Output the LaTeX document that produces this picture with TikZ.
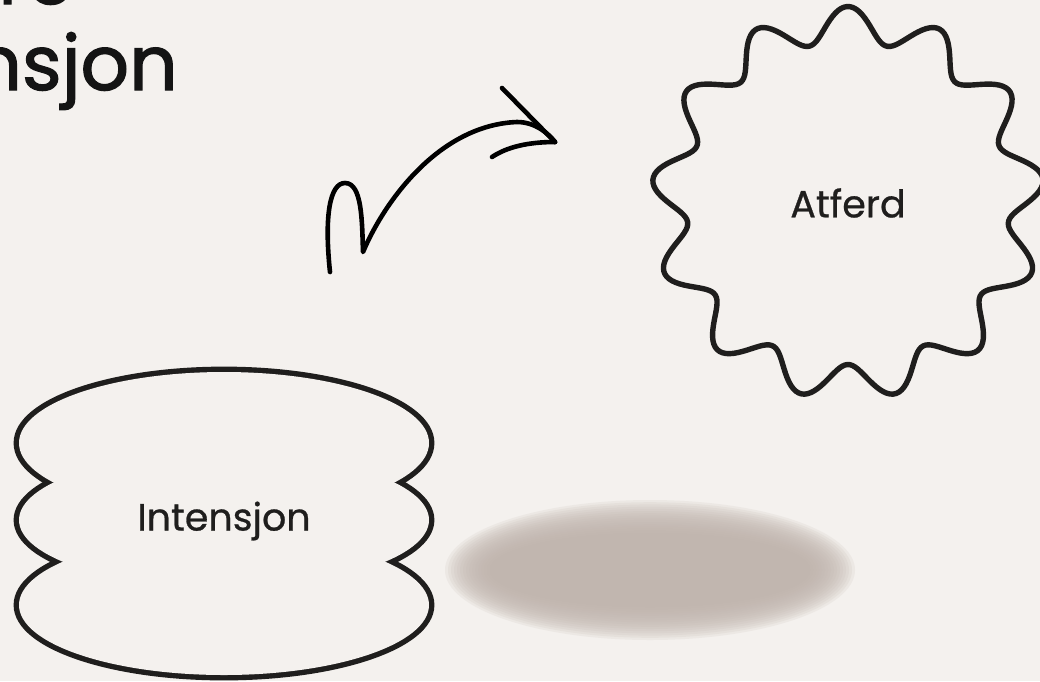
\documentclass[tikz,border=0pt]{standalone}
\usepackage{fontspec}
\setmainfont{Poppins}
\newfontfamily\headfont{Poppins}[FakeBold=1.6]
\newfontfamily\labelfont{Poppins}[FakeBold=0.7]
\usepackage{xcolor}
\usetikzlibrary{arrows.meta,positioning,calc}

\definecolor{paper}{HTML}{F4F1EE}
\definecolor{ink}{HTML}{1F1E1D}
\definecolor{shadowtone}{HTML}{C0B5AD}

\begin{document}
\begin{tikzpicture}[
  x=1pt, y=-1pt,
  outline/.style={draw=ink, line width=5.4pt, line cap=round, line join=round},
  label/.style={text=ink, font=\labelfont\fontsize{38}{44}\selectfont, inner sep=0pt},
  heading/.style={text=black!92, font=\headfont\fontsize{76}{84}\selectfont, inner sep=0pt},
  stroke/.style={draw=black, line width=4.6pt, line cap=round, line join=round}
]
% Canvas
\fill[paper] (0,0) rectangle (1040,681);
\useasboundingbox (0,0) rectangle (1040,681);
\clip (0,0) rectangle (1040,681);

% Heading (cut off at the top left)
\node[heading, anchor=base east] (headtop) at (74,4)  {re};
\node[heading, anchor=base east] (headbot) at (178,90) {nsjon};

% Atferd
\draw[outline] plot[domain=0:360, samples=400]
  ({848+(179+17.5*cos(13*(\x-90)))*cos(\x)}, {203-(179+17.5*cos(13*(\x-90)))*sin(\x)}) -- cycle;
\node[label] (atferd) at (848,203) {Atferd};

% Intensjon
\foreach \cy/\ry in {443/71, 520/67.5, 605/70}
  \draw[ink, line width=10.8pt] (224,\cy) ellipse (205 and \ry);
\foreach \cy/\ry in {443/71, 520/67.5, 605/70}
  \fill[paper] (224,\cy) ellipse (205 and \ry);
\node[label] (intensjon) at (224,521) {Intensjon};

% Shadow
\coordinate (shadowc) at (650,570);
\foreach \k in {0,...,15}
  \fill[shadowtone, opacity=0.15] (shadowc) ellipse ({205-3*\k} and {70-2.2*\k});

% Curl arrow
\coordinate (curlstart) at (330,272);
\coordinate (curltip)   at (555,142);
\coordinate (barbup)    at (502,88);
\coordinate (barblow)   at (492,157);
\draw[stroke] (curlstart) .. controls (324,215) and (330,183) .. (345,183)
  .. controls (362,183) and (362,220) .. (363,252)
  .. controls (385,200) and (440,125) .. (517,122)
  .. controls (535,122) and (548,133) .. (curltip);
\draw[stroke] (barbup) -- (curltip);
\draw[stroke] (curltip) .. controls (528,142) and (507,147) .. (barblow);
\end{tikzpicture}
\end{document}
